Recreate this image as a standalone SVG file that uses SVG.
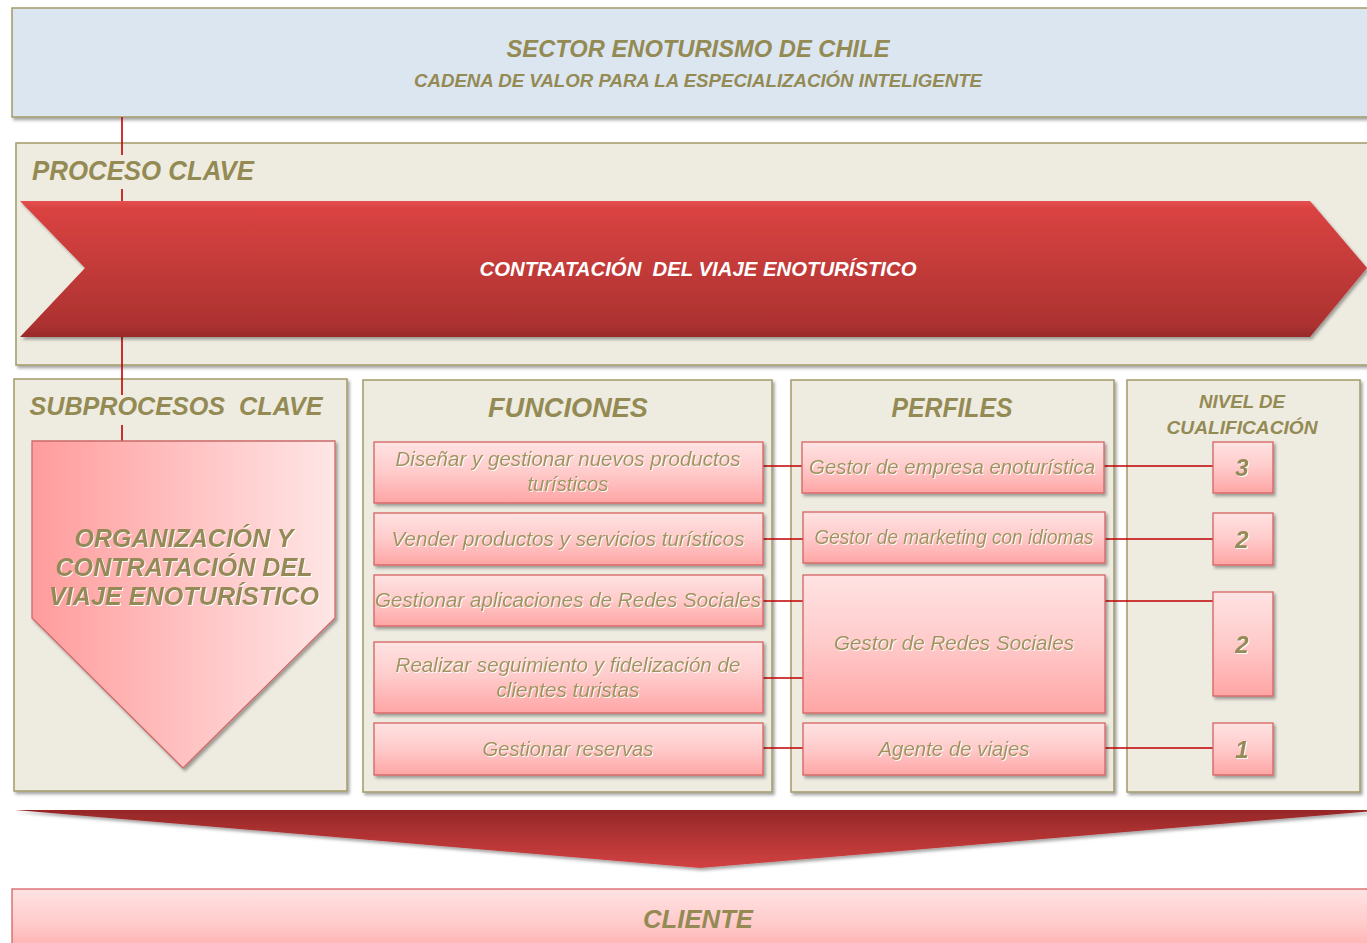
<svg xmlns="http://www.w3.org/2000/svg" width="1367" height="943" viewBox="0 0 1367 943">
<defs>
<style>
.panel{fill:#eeece1;stroke:#a39a68;stroke-width:1.5}
.head{font-family:"Liberation Sans",Arial,sans-serif;font-weight:bold;font-style:italic;fill:#948a54;text-anchor:middle}
.lbl{font-family:"Liberation Sans",Arial,sans-serif;font-style:italic;fill:#a0935c;text-anchor:middle;font-size:20.5px}
.num{font-family:"Liberation Sans",Arial,sans-serif;font-weight:bold;font-style:italic;fill:#948a54;text-anchor:middle;font-size:24px}
.box{fill:url(#pink);stroke:#d66262;stroke-width:1.3}
.conn line{stroke:#c00000;stroke-width:1.6}
</style>
<linearGradient id="pink" x1="0" y1="0" x2="0" y2="1">
<stop offset="0" stop-color="#ffe3e3"/><stop offset="0.5" stop-color="#ffcaca"/><stop offset="1" stop-color="#ffa5a5"/>
</linearGradient>
<linearGradient id="pinkH" x1="0" y1="0" x2="1" y2="0">
<stop offset="0" stop-color="#ff9c9c"/><stop offset="1" stop-color="#ffe6e6"/>
</linearGradient>
<linearGradient id="red" x1="0" y1="0" x2="0" y2="1">
<stop offset="0" stop-color="#e55150"/><stop offset="0.05" stop-color="#da4341"/><stop offset="0.9" stop-color="#ad3231"/><stop offset="1" stop-color="#992a2a"/>
</linearGradient>
<linearGradient id="red2" x1="0" y1="0" x2="0" y2="1">
<stop offset="0" stop-color="#962727"/><stop offset="1" stop-color="#d24242"/>
</linearGradient>
<filter id="sh" x="-5%" y="-10%" width="112%" height="125%">
<feDropShadow dx="2" dy="2.5" stdDeviation="1.5" flood-color="#000" flood-opacity="0.35"/>
</filter>
<filter id="glow" x="-5%" y="-20%" width="110%" height="140%">
<feDropShadow dx="1" dy="1" stdDeviation="0.6" flood-color="#ffffff" flood-opacity="0.9"/>
</filter>
</defs>

<g id="header">
<rect x="12" y="8" width="1370" height="109" fill="#dce6f1" stroke="#a39a68" stroke-width="1.5" filter="url(#sh)"/>
<text class="head" x="698" y="57" font-size="24" textLength="383" lengthAdjust="spacingAndGlyphs">SECTOR ENOTURISMO DE CHILE</text>
<text class="head" x="698" y="87" font-size="18" textLength="568" lengthAdjust="spacingAndGlyphs">CADENA DE VALOR PARA LA ESPECIALIZACIÓN INTELIGENTE</text>
</g>

<g id="proceso-clave">
<rect class="panel" x="16" y="143" width="1370" height="222" filter="url(#sh)"/>
<text class="head" x="143" y="180" font-size="28" textLength="222" lengthAdjust="spacingAndGlyphs">PROCESO CLAVE</text>
</g>

<g id="subprocesos-panel">
<rect class="panel" x="14" y="379" width="333" height="412" filter="url(#sh)"/>
<text class="head" x="176" y="415" font-size="26" textLength="293" lengthAdjust="spacingAndGlyphs">SUBPROCESOS&#160; CLAVE</text>
</g>
<g id="funciones">
<rect class="panel" x="363" y="380" width="409" height="412" filter="url(#sh)"/>
<text class="head" x="568" y="417" font-size="27" textLength="160" lengthAdjust="spacingAndGlyphs">FUNCIONES</text>
</g>
<g id="perfiles">
<rect class="panel" x="791" y="380" width="323" height="412" filter="url(#sh)"/>
<text class="head" x="952" y="417" font-size="27" textLength="121" lengthAdjust="spacingAndGlyphs">PERFILES</text>
</g>
<g id="nivel">
<rect class="panel" x="1127" y="380" width="233" height="412" filter="url(#sh)"/>
<text class="head" x="1242" y="408" font-size="18" textLength="86" lengthAdjust="spacingAndGlyphs">NIVEL DE</text>
<text class="head" x="1242" y="434" font-size="18" textLength="151" lengthAdjust="spacingAndGlyphs">CUALIFICACIÓN</text>
</g>

<g class="conn" id="connectors">
<line x1="122" y1="117" x2="122" y2="155"/>
<line x1="122" y1="189" x2="122" y2="201"/>
<line x1="122" y1="337" x2="122" y2="395"/>
<line x1="122" y1="425" x2="122" y2="441"/>
<line x1="763" y1="466" x2="802" y2="466"/>
<line x1="763" y1="539" x2="803" y2="539"/>
<line x1="763" y1="601" x2="803" y2="601"/>
<line x1="763" y1="678" x2="803" y2="678"/>
<line x1="763" y1="748" x2="803" y2="748"/>
<line x1="1104" y1="466" x2="1213" y2="466"/>
<line x1="1105" y1="539" x2="1213" y2="539"/>
<line x1="1105" y1="601" x2="1213" y2="601"/>
<line x1="1105" y1="748" x2="1213" y2="748"/>
</g>

<g id="contratacion-chevron">
<polygon points="20,201 1310,201 1367,268 1310,337 20,337 85,268" fill="url(#red)" filter="url(#sh)"/>
<text x="698" y="276" font-family="'Liberation Sans',Arial,sans-serif" font-weight="bold" font-style="italic" font-size="20" fill="#ffffff" text-anchor="middle" textLength="437" lengthAdjust="spacingAndGlyphs">CONTRATACIÓN&#160; DEL VIAJE ENOTURÍSTICO</text>
</g>

<g id="subproceso-organizacion">
<polygon points="32,441 335,441 335,618 183,768 32,618" fill="url(#pinkH)" stroke="#cd6a6a" stroke-width="1.3" filter="url(#sh)"/>
<g font-family="'Liberation Sans',Arial,sans-serif" font-weight="bold" font-style="italic" font-size="25" fill="#948a54" text-anchor="middle" filter="url(#glow)">
<text x="184" y="547" textLength="219" lengthAdjust="spacingAndGlyphs">ORGANIZACIÓN Y</text>
<text x="184" y="576" textLength="257" lengthAdjust="spacingAndGlyphs">CONTRATACIÓN DEL</text>
<text x="184" y="605" textLength="270" lengthAdjust="spacingAndGlyphs">VIAJE ENOTURÍSTICO</text>
</g>
</g>

<g id="f1"><rect class="box" x="374" y="442" width="389" height="61" filter="url(#sh)"/>
<text class="lbl" x="568" y="466" textLength="345" lengthAdjust="spacingAndGlyphs" filter="url(#glow)">Diseñar y gestionar nuevos productos</text>
<text class="lbl" x="568" y="491" textLength="81" lengthAdjust="spacingAndGlyphs" filter="url(#glow)">turísticos</text></g>
<g id="f2"><rect class="box" x="374" y="513" width="389" height="52" filter="url(#sh)"/>
<text class="lbl" x="568" y="546" textLength="353" lengthAdjust="spacingAndGlyphs" filter="url(#glow)">Vender productos y servicios turísticos</text></g>
<g id="f3"><rect class="box" x="374" y="575" width="389" height="51" filter="url(#sh)"/>
<text class="lbl" x="568" y="607" textLength="386" lengthAdjust="spacingAndGlyphs" filter="url(#glow)">Gestionar aplicaciones de Redes Sociales</text></g>
<g id="f4"><rect class="box" x="374" y="642" width="389" height="71" filter="url(#sh)"/>
<text class="lbl" x="568" y="672" textLength="345" lengthAdjust="spacingAndGlyphs" filter="url(#glow)">Realizar seguimiento y fidelización de</text>
<text class="lbl" x="568" y="697" textLength="143" lengthAdjust="spacingAndGlyphs" filter="url(#glow)">clientes turistas</text></g>
<g id="f5"><rect class="box" x="374" y="723" width="389" height="52" filter="url(#sh)"/>
<text class="lbl" x="568" y="756" textLength="171" lengthAdjust="spacingAndGlyphs" filter="url(#glow)">Gestionar reservas</text></g>

<g id="p1"><rect class="box" x="802" y="442" width="302" height="51" filter="url(#sh)"/>
<text class="lbl" x="952" y="474" textLength="286" lengthAdjust="spacingAndGlyphs" filter="url(#glow)">Gestor de empresa enoturística</text></g>
<g id="p2"><rect class="box" x="803" y="512" width="302" height="51" filter="url(#sh)"/>
<text class="lbl" x="954" y="544" textLength="279" lengthAdjust="spacingAndGlyphs" filter="url(#glow)">Gestor de marketing con idiomas</text></g>
<g id="p3"><rect class="box" x="803" y="575" width="302" height="138" filter="url(#sh)"/>
<text class="lbl" x="954" y="650" textLength="240" lengthAdjust="spacingAndGlyphs" filter="url(#glow)">Gestor de Redes Sociales</text></g>
<g id="p4"><rect class="box" x="803" y="723" width="302" height="52" filter="url(#sh)"/>
<text class="lbl" x="954" y="756" textLength="151" lengthAdjust="spacingAndGlyphs" filter="url(#glow)">Agente de viajes</text></g>

<g id="n1"><rect class="box" x="1213" y="442" width="60" height="51" filter="url(#sh)"/>
<text class="num" x="1242" y="476" filter="url(#glow)">3</text></g>
<g id="n2"><rect class="box" x="1213" y="513" width="60" height="52" filter="url(#sh)"/>
<text class="num" x="1242" y="548" filter="url(#glow)">2</text></g>
<g id="n3"><rect class="box" x="1213" y="592" width="60" height="104" filter="url(#sh)"/>
<text class="num" x="1242" y="653" filter="url(#glow)">2</text></g>
<g id="n4"><rect class="box" x="1213" y="723" width="60" height="52" filter="url(#sh)"/>
<text class="num" x="1242" y="758" filter="url(#glow)">1</text></g>

<g id="flecha-inferior">
<polygon points="15,810 1385,810 700,868" fill="url(#red2)" filter="url(#sh)"/>
</g>

<g id="cliente">
<rect class="box" x="12" y="889" width="1375" height="70"/>
<text class="head" x="698" y="928" font-size="25" textLength="110" lengthAdjust="spacingAndGlyphs">CLIENTE</text>
</g>
</svg>
